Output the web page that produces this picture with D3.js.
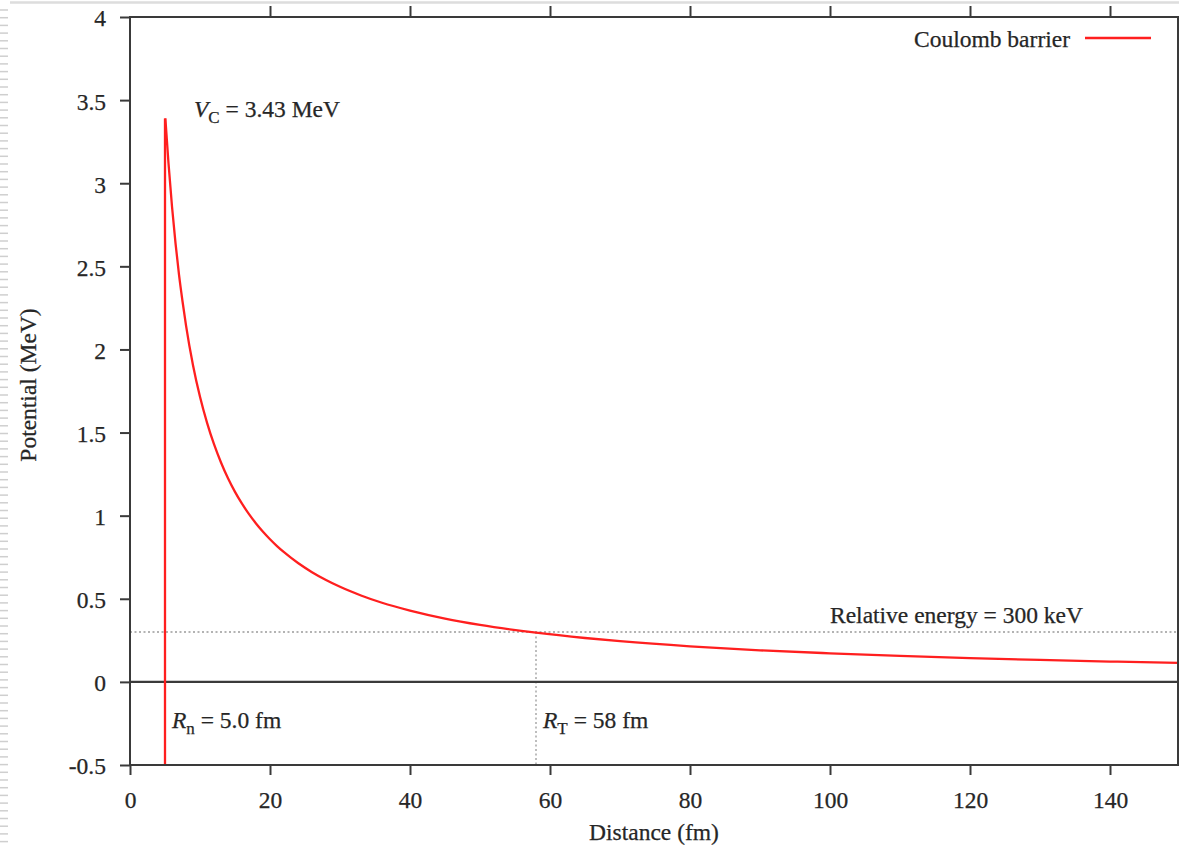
<!DOCTYPE html>
<html>
<head>
<meta charset="utf-8">
<script src="https://cdn.jsdelivr.net/npm/d3@7/dist/d3.min.js"></script>
<style>
  html, body { margin: 0; padding: 0; background: #fff; }
  svg { display: block; }
  text { font-family: "Liberation Serif", "Times New Roman", serif; fill: #262626; stroke: #262626; stroke-width: 0.25px; }
</style>
</head>
<body>
<svg id="chart" width="1179" height="847"></svg>
<script>
// ---- data ----
const xTicks = [0, 20, 40, 60, 80, 100, 120, 140];
const yTicks = [-0.5, 0, 0.5, 1, 1.5, 2, 2.5, 3, 3.5, 4];
const yTickLabels = ["-0.5", "0", "0.5", "1", "1.5", "2", "2.5", "3", "3.5", "4"];
// inner wall of the barrier at R_n
const wallX = [5.0, 5.0];
const wallY = [-0.5, 3.39];
// Coulomb barrier curve, distance (fm) and potential (MeV)
const distance = [5.05, 5.5, 6, 6.5, 7, 7.5, 8, 9, 10, 11, 12, 13, 14, 15, 16, 17, 18, 19, 20, 21, 22, 24, 26, 28, 30, 33, 36, 40, 45, 50, 58, 65, 70, 80, 90, 100, 110, 120, 130, 140, 150];
const potential = [3.39, 3.12, 2.86, 2.64, 2.45, 2.29, 2.145, 1.905, 1.715, 1.56, 1.43, 1.32, 1.225, 1.143, 1.072, 1.009, 0.953, 0.903, 0.858, 0.817, 0.78, 0.715, 0.66, 0.613, 0.572, 0.52, 0.476, 0.429, 0.381, 0.343, 0.296, 0.264, 0.245, 0.214, 0.19, 0.172, 0.156, 0.143, 0.132, 0.1225, 0.114];
const relativeEnergy = 0.3;   // MeV
const turningRadius = 58;     // fm
const legendLabel = "Coulomb barrier";
const xLabel = "Distance (fm)";
const yLabel = "Potential (MeV)";

// ---- layout ----
const svg = d3.select("#chart");
const L = 130, R = 1178, T = 17, B = 765;
const x = d3.scaleLinear().domain([0, 150]).range([L, L + 1050]);
const y = d3.scaleLinear().domain([-0.5, 4]).range([B, T]);
const frameColor = "#3a3a3a";
const red = "#ff1f1f";

// window decorations (left ruler strip and top rule)
const strip = svg.append("g");
d3.range(10, 847, 7.7).forEach(v => {
  strip.append("line").attr("x1", 0).attr("x2", 8).attr("y1", v).attr("y2", v)
    .attr("stroke", "#cfcfcf").attr("stroke-width", 1.5);
});
svg.append("line").attr("x1", 10).attr("x2", 1179).attr("y1", 2.5).attr("y2", 2.5)
  .attr("stroke", "#dddddd").attr("stroke-width", 2.5);

// clip for the plot area
svg.append("clipPath").attr("id", "plotclip")
  .append("rect").attr("x", L).attr("y", T).attr("width", R - L).attr("height", B - T);

// axes
const fs = 23.5;
const axL = d3.axisLeft(y).tickValues(yTicks).tickSize(10).tickPadding(14)
  .tickFormat((d, i) => yTickLabels[i]);
const gL = svg.append("g").attr("transform", `translate(${L},0)`).call(axL);
const axB = d3.axisBottom(x).tickValues(xTicks).tickSize(10).tickPadding(16).tickFormat(d3.format("d"));
const gB = svg.append("g").attr("transform", `translate(0,${B})`).call(axB);
const axT = d3.axisTop(x).tickValues(xTicks.slice(1)).tickSize(11).tickFormat("");
const gT = svg.append("g").attr("transform", `translate(0,${T})`).call(axT);
[gL, gB, gT].forEach(g => {
  g.select(".domain").remove();
  g.selectAll(".tick line").attr("stroke", frameColor).attr("stroke-width", 2);
  g.selectAll(".tick text").style("font-size", fs + "px").attr("fill", "#262626");
});
gL.selectAll(".tick text").attr("dy", "0.38em");

// reference lines
svg.append("line").attr("x1", L).attr("x2", R).attr("y1", y(relativeEnergy)).attr("y2", y(relativeEnergy))
  .attr("stroke", "#9a9a9a").attr("stroke-width", 1.3).attr("stroke-dasharray", "2,2.5");
svg.append("line").attr("x1", x(turningRadius)).attr("x2", x(turningRadius))
  .attr("y1", y(relativeEnergy)).attr("y2", y(-0.5))
  .attr("stroke", "#9a9a9a").attr("stroke-width", 1.3).attr("stroke-dasharray", "2,2.5");

// zero line
svg.append("line").attr("x1", L).attr("x2", R).attr("y1", y(0)).attr("y2", y(0))
  .attr("stroke", frameColor).attr("stroke-width", 2.2);

// curve
const plot = svg.append("g").attr("clip-path", "url(#plotclip)");
const wall = wallX.map((d, i) => [d, wallY[i]]);
const curve = distance.map((d, i) => [d, potential[i]]);
plot.append("path").datum(wall)
  .attr("d", d3.line().x(d => x(d[0])).y(d => y(d[1])))
  .attr("fill", "none").attr("stroke", red).attr("stroke-width", 2.3);
plot.append("path").datum(curve)
  .attr("d", d3.line().x(d => x(d[0])).y(d => y(d[1])).curve(d3.curveMonotoneX))
  .attr("fill", "none").attr("stroke", red).attr("stroke-width", 2.3);

// frame
svg.append("rect").attr("x", L).attr("y", T).attr("width", R - L).attr("height", B - T)
  .attr("fill", "none").attr("stroke", frameColor).attr("stroke-width", 2);

// legend
svg.append("text").attr("x", 1070).attr("y", 47).attr("text-anchor", "end")
  .style("font-size", fs + "px").text(legendLabel);
svg.append("line").attr("x1", 1085).attr("x2", 1151).attr("y1", 38).attr("y2", 38)
  .attr("stroke", red).attr("stroke-width", 2.3);

// annotations
function subLabel(px, py, main, sub, rest) {
  const t = svg.append("text").attr("x", px).attr("y", py).style("font-size", fs + "px");
  t.append("tspan").style("font-style", "italic").text(main);
  t.append("tspan").attr("dy", 6).style("font-size", "17px").text(sub);
  t.append("tspan").attr("dy", -6).text(rest);
}
subLabel(194, 117, "V", "C", " = 3.43 MeV");
subLabel(172, 728, "R", "n", " = 5.0 fm");
subLabel(543, 728, "R", "T", " = 58 fm");
svg.append("text").attr("x", 830).attr("y", 623).style("font-size", fs + "px")
  .text("Relative energy = 300 keV");

// axis labels
svg.append("text").attr("x", 654).attr("y", 840).attr("text-anchor", "middle")
  .style("font-size", fs + "px").text(xLabel);
svg.append("text").attr("transform", "translate(36,385) rotate(-90)").attr("text-anchor", "middle")
  .style("font-size", fs + "px").text(yLabel);
</script>
</body>
</html>
